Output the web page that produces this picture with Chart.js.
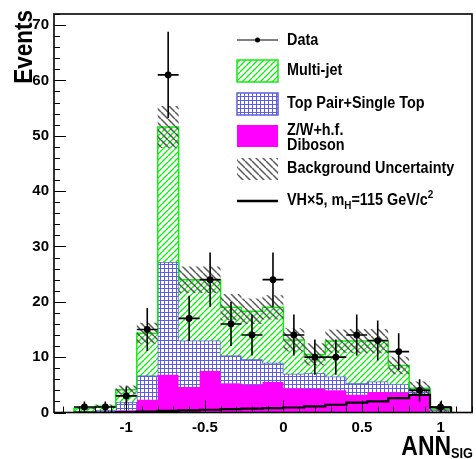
<!DOCTYPE html>
<html>
<head>
<meta charset="utf-8">
<script src="https://cdn.jsdelivr.net/npm/chart.js@4.4.1/dist/chart.umd.min.js"></script>
<style>
  html, body { margin: 0; padding: 0; background: #fff; }
  canvas { display: block; }
</style>
</head>
<body>
<canvas id="annChart" width="476" height="459"></canvas>
<script>
// bin edges of the ANN output histogram
const binEdges = [-1.333, -1.2, -1.067, -0.933, -0.8, -0.667, -0.533, -0.4, -0.267, -0.133,
                  0, 0.133, 0.267, 0.4, 0.533, 0.667, 0.8, 0.933, 1.067];
const dataCounts = [1, 1, 3, 15, 61, 17, 24, 16, 14, 24, 14, 10, 10, 14, 13, 11, 4, 1];
const dataErr    = [1, 1, 1.7, 3.9, 7.8, 4.1, 4.9, 4, 3.7, 4.9, 3.7, 3.2, 3.2, 3.7, 3.6, 3.3, 2, 1];
const zwDiboson  = [0.05, 0.1, 0.4, 2.3, 6.8, 4.6, 7.5, 5.3, 5.0, 5.5, 4.4, 4.3, 4.0, 3.2, 3.7, 3.6, 3.3, 0.2];
const topPair    = [0.1, 0.35, 1.5, 4.4, 20.4, 8.4, 5.5, 5.0, 4.6, 3.5, 2.6, 2.8, 2.5, 2.1, 1.9, 1.5, 0.9, 0.2];
const multiJet   = [0.6, 0.7, 2.2, 7.6, 24.4, 11.0, 11.0, 8.7, 8.7, 10.0, 6.1, 3.4, 6.4, 7.6, 7.3, 3.4, 0.2, 0.1];
const bkgErr     = [0.2, 0.3, 0.8, 1.9, 3.8, 2.4, 2.4, 2.4, 2.3, 2.2, 2.1, 2.0, 2.1, 2.2, 2.2, 1.6, 1.2, 0.3];
const signalVH   = [0, 0, 0.05, 0.15, 0.3, 0.4, 0.5, 0.6, 0.7, 0.8, 0.9, 1.1, 1.4, 1.8, 2.0, 2.6, 3.2, 0.9];

const xTicks = [-1, -0.5, 0, 0.5, 1];
const yTicks = [0, 10, 20, 30, 40, 50, 60, 70];

const GREEN = 'rgb(20,235,20)';
const BLUE = 'rgb(95,95,215)';
const MAGENTA = '#ff00ff';
const FONT = '"Liberation Sans", Arial, Helvetica, sans-serif';

function makeHatch(color, bg, dir, size, lw) {
    const c = document.createElement('canvas');
    c.width = size; c.height = size;
    const g = c.getContext('2d');
    if (bg) { g.fillStyle = bg; g.fillRect(0, 0, size, size); }
    g.strokeStyle = color;
    g.lineWidth = lw;
    g.beginPath();
    for (const k of [-size, 0, size]) {
        if (dir > 0) { g.moveTo(k, size); g.lineTo(k + size, 0); }
        else { g.moveTo(k, 0); g.lineTo(k + size, size); }
    }
    g.stroke();
    return g.createPattern(c, 'repeat');
}

function makeGrid(color, size) {
    const c = document.createElement('canvas');
    c.width = size; c.height = size;
    const g = c.getContext('2d');
    g.fillStyle = '#fff';
    g.fillRect(0, 0, size, size);
    g.fillStyle = color;
    g.fillRect(0, 0, size, 1);
    g.fillRect(0, 0, 1, size);
    return g.createPattern(c, 'repeat');
}

const greenHatch = makeHatch(GREEN, '#fff', 1, 6, 1.4);
const blueGrid = makeGrid(BLUE, 4);
const greyHatch = makeHatch('rgba(70,70,70,0.9)', null, -1, 7, 1.5);

// stepped outline points for a histogram, closed down to zero at both ends
function histPoints(vals, closed) {
    const pts = [];
    if (closed) pts.push({ x: binEdges[0], y: 0 });
    vals.forEach((v, i) => pts.push({ x: binEdges[i], y: v }));
    pts.push({ x: binEdges[binEdges.length - 1], y: vals[vals.length - 1] });
    if (closed) pts.push({ x: binEdges[binEdges.length - 1], y: 0 });
    return pts;
}

const stackBlue = zwDiboson.map((v, i) => v + topPair[i]);
const stackGreen = stackBlue.map((v, i) => v + multiJet[i]);
const bandLo = stackGreen.map((v, i) => Math.max(0, v - bkgErr[i]));
const bandHi = stackGreen.map((v, i) => v + bkgErr[i]);
const binCenters = dataCounts.map((_, i) => (binEdges[i] + binEdges[i + 1]) / 2);

const histPlugin = {
    id: 'histExtras',
    beforeDatasetDraw(chart, args) {
        if (args.index !== 6) return;
        const ctx = chart.ctx;
        const xs = chart.scales.x, ys = chart.scales.y;
        ctx.save();
        ctx.strokeStyle = '#000';
        ctx.lineWidth = 1.6;
        ctx.beginPath();
        dataCounts.forEach((n, i) => {
            const yc = ys.getPixelForValue(n);
            ctx.moveTo(xs.getPixelForValue(binEdges[i]), yc);
            ctx.lineTo(xs.getPixelForValue(binEdges[i + 1]), yc);
            const xc = xs.getPixelForValue(binCenters[i]);
            ctx.moveTo(xc, ys.getPixelForValue(Math.max(0, n - dataErr[i])));
            ctx.lineTo(xc, ys.getPixelForValue(n + dataErr[i]));
        });
        ctx.stroke();
        ctx.restore();
    },
    afterDraw(chart) {
        const ctx = chart.ctx;
        const a = chart.chartArea;
        const xs = chart.scales.x, ys = chart.scales.y;
        ctx.save();
        // inward ticks
        ctx.strokeStyle = '#000';
        ctx.lineWidth = 1;
        ctx.beginPath();
        for (let v = 0; v <= 72; v += 2) {
            const y = Math.round(ys.getPixelForValue(v)) + 0.5;
            const len = v % 10 === 0 ? 12 : 6;
            ctx.moveTo(a.left, y); ctx.lineTo(a.left + len, y);
        }
        for (let k = -14; k <= 12; k++) {
            const x = Math.round(xs.getPixelForValue(k / 10)) + 0.5;
            const len = k % 5 === 0 ? 12 : 6;
            ctx.moveTo(x, a.bottom); ctx.lineTo(x, a.bottom - len);
        }
        ctx.stroke();
        // frame
        ctx.lineWidth = 1.6;
        ctx.strokeRect(a.left, a.top, a.right - a.left, a.bottom - a.top);

        // axis titles
        ctx.fillStyle = '#000';
        ctx.save();
        ctx.translate(32, 10);
        ctx.rotate(-Math.PI / 2);
        ctx.scale(0.9, 1);
        ctx.font = 'bold 25px ' + FONT;
        ctx.textAlign = 'right';
        ctx.fillText('Events', 0, 0);
        ctx.restore();

        ctx.save();
        ctx.translate(473, 0);
        ctx.scale(0.85, 1);
        ctx.textAlign = 'right';
        ctx.font = 'bold 15px ' + FONT;
        const wSig = ctx.measureText('SIG').width;
        ctx.fillText('SIG', 0, 458);
        ctx.font = 'bold 27px ' + FONT;
        ctx.fillText('ANN', -wSig, 455);
        ctx.restore();

        // legend
        const lx = 237, lw = 41, tx = 287;
        ctx.font = 'bold 16px ' + FONT;
        ctx.textBaseline = 'middle';
        const label = (txt, y) => {
            ctx.save();
            ctx.translate(tx, y);
            ctx.scale(0.9, 1);
            ctx.fillText(txt, 0, 0);
            ctx.restore();
        };
        // Data
        ctx.lineWidth = 1;
        ctx.beginPath();
        ctx.moveTo(lx, 40); ctx.lineTo(lx + lw, 40);
        ctx.stroke();
        ctx.beginPath();
        ctx.arc(lx + lw / 2, 40, 2.5, 0, Math.PI * 2);
        ctx.fill();
        label('Data', 41);
        // Multi-jet
        ctx.fillStyle = greenHatch;
        ctx.fillRect(lx, 60, lw, 22);
        ctx.strokeStyle = GREEN; ctx.lineWidth = 1.5;
        ctx.strokeRect(lx, 60, lw, 22);
        ctx.fillStyle = '#000';
        label('Multi-jet', 71);
        // Top
        ctx.fillStyle = blueGrid;
        ctx.fillRect(lx, 93, lw, 22);
        ctx.strokeStyle = BLUE;
        ctx.strokeRect(lx, 93, lw, 22);
        ctx.fillStyle = '#000';
        label('Top Pair+Single Top', 104);
        // Z/W
        ctx.fillStyle = MAGENTA;
        ctx.fillRect(lx, 125, lw, 22);
        ctx.fillStyle = '#000';
        label('Z/W+h.f.', 131);
        label('Diboson', 146);
        // uncertainty
        ctx.fillStyle = greyHatch;
        ctx.fillRect(lx, 158, lw, 22);
        ctx.fillStyle = '#000';
        label('Background Uncertainty', 169);
        // signal
        ctx.strokeStyle = '#000'; ctx.lineWidth = 2.5;
        ctx.beginPath();
        ctx.moveTo(lx, 201); ctx.lineTo(lx + lw, 201);
        ctx.stroke();
        ctx.save();
        ctx.translate(tx, 201);
        ctx.scale(0.9, 1);
        let x = 0;
        const part = (t, f, dy) => {
            ctx.font = f;
            ctx.fillText(t, x, dy);
            x += ctx.measureText(t).width;
        };
        const big = 'bold 16px ' + FONT, small = 'bold 11px ' + FONT;
        part('VH\u00d75, m', big, 0);
        part('H', small, 5);
        part('=115 GeV/c', big, 0);
        part('2', small, -6);
        ctx.restore();
        ctx.restore();
    }
};

const stepLine = { stepped: true, pointRadius: 0, tension: 0 };

new Chart(document.getElementById('annChart'), {
    type: 'line',
    data: {
        datasets: [
            Object.assign({ label: 'Z/W+h.f. Diboson', data: histPoints(zwDiboson, true),
                backgroundColor: MAGENTA, borderColor: MAGENTA, borderWidth: 1,
                fill: 'origin', order: 6 }, stepLine),
            Object.assign({ label: 'Top Pair+Single Top', data: histPoints(stackBlue, true),
                backgroundColor: blueGrid, borderColor: BLUE, borderWidth: 1.5,
                fill: 0, order: 5 }, stepLine),
            Object.assign({ label: 'Multi-jet', data: histPoints(stackGreen, true),
                backgroundColor: greenHatch, borderColor: GREEN, borderWidth: 1.5,
                fill: 1, order: 4 }, stepLine),
            Object.assign({ label: 'band low', data: histPoints(bandLo, false),
                borderWidth: 0, borderColor: 'rgba(0,0,0,0)', fill: false, order: 3 }, stepLine),
            Object.assign({ label: 'Background Uncertainty', data: histPoints(bandHi, false),
                borderWidth: 0, borderColor: 'rgba(0,0,0,0)', backgroundColor: greyHatch,
                fill: 3, order: 3 }, stepLine),
            Object.assign({ label: 'VH x5', data: histPoints(signalVH, true),
                borderColor: '#000', borderWidth: 2.2, fill: false, order: 2 }, stepLine),
            { label: 'Data', data: dataCounts.map((n, i) => ({ x: binCenters[i], y: n })),
              showLine: false, pointRadius: 3.4, pointBackgroundColor: '#000',
              pointBorderColor: '#000', pointBorderWidth: 0, order: 1 }
        ]
    },
    options: {
        responsive: false,
        animation: false,
        devicePixelRatio: 1,
        layout: { padding: { left: 0, top: 12, right: 3, bottom: 0 } },
        plugins: { legend: { display: false }, tooltip: { enabled: false } },
        scales: {
            x: {
                type: 'linear', min: -1.46, max: 1.2,
                afterBuildTicks: s => { s.ticks = xTicks.map(v => ({ value: v })); },
                afterFit: s => { s.height = 46.5; },
                grid: { display: false, drawTicks: false },
                border: { display: false },
                ticks: { color: '#000', padding: 6, maxRotation: 0,
                         font: { family: FONT, size: 15, weight: 'bold' },
                         callback: v => String(v) }
            },
            y: {
                type: 'linear', min: 0, max: 72,
                afterBuildTicks: s => { s.ticks = yTicks.map(v => ({ value: v })); },
                afterFit: s => { s.width = 54; },
                grid: { display: false, drawTicks: false },
                border: { display: false },
                ticks: { color: '#000', padding: 5,
                         font: { family: FONT, size: 15, weight: 'bold' } }
            }
        }
    },
    plugins: [histPlugin]
});
</script>
</body>
</html>
